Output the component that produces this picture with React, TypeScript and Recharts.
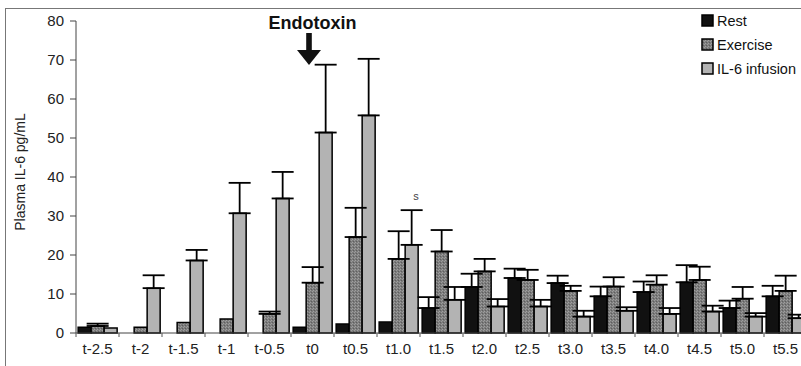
import React from 'react'
import {
  BarChart,
  Bar,
  XAxis,
  YAxis,
  ErrorBar,
  ReferenceDot,
} from 'recharts'

// time points (h relative to endotoxin)
const CATEGORIES = [
  't-2.5', 't-2', 't-1.5', 't-1', 't-0.5', 't0', 't0.5', 't1.0', 't1.5',
  't2.0', 't2.5', 't3.0', 't3.5', 't4.0', 't4.5', 't5.0', 't5.5',
]

const REST = [1.5, null, null, null, null, 1.5, 2.3, 2.8, 6.4, 11.8, 14.1, 12.8, 9.4, 10.5, 13.0, 6.4, 9.4]
const REST_ERR = [null, null, null, null, null, null, null, null, 2.8, 3.4, 2.4, 1.9, 2.5, 2.7, 4.4, 1.9, 2.7]
const EXERCISE = [1.8, 1.5, 2.7, 3.6, 4.9, 12.9, 24.6, 19.0, 20.9, 15.8, 13.6, 10.8, 11.9, 12.4, 13.6, 8.8, 10.8]
const EXERCISE_ERR = [0.6, null, null, null, 0.6, 4.0, 7.5, 7.1, 5.5, 3.2, 2.6, 1.3, 2.4, 2.4, 3.4, 3.0, 3.9]
const INFUSION = [1.3, 11.5, 18.6, 30.7, 34.5, 51.4, 55.8, 22.6, 8.5, 6.8, 6.8, 4.2, 5.7, 4.9, 5.5, 4.2, 3.8]
const INFUSION_ERR = [null, 3.3, 2.7, 7.8, 6.8, 17.4, 14.5, 8.9, 3.3, 1.9, 1.7, 1.5, 0.9, 1.5, 1.5, 0.9, 0.9]

const Y_TICKS = [0, 10, 20, 30, 40, 50, 60, 70, 80]

const ENDOTOXIN_AT = 't0'
const NOTE_AT = 't1.0'
const NOTE_TEXT = 's'

const FONT = '"Liberation Sans", Arial, sans-serif'

const CHART_W = 830
const CHART_H = 366
const MARGIN = { top: 21, right: 23, left: 0, bottom: 1 }
const Y_AXIS_W = 76
const STEP = (CHART_W - MARGIN.left - MARGIN.right - Y_AXIS_W) / CATEGORIES.length

const SERIES = [
  { key: 'rest', name: 'Rest', fill: '#111111' },
  { key: 'exercise', name: 'Exercise', fill: 'url(#exercisePattern)' },
  { key: 'infusion', name: 'IL-6 infusion', fill: '#b3b3b3' },
]

const upOnly = (e: number | null) => (e == null ? null : [0, e])

const data = CATEGORIES.map((name, i) => ({
  name,
  rest: REST[i],
  restErr: upOnly(REST_ERR[i]),
  exercise: EXERCISE[i],
  exerciseErr: upOnly(EXERCISE_ERR[i]),
  infusion: INFUSION[i],
  infusionErr: upOnly(INFUSION_ERR[i]),
}))

const XTick = (props: any) => {
  const { x, y, payload } = props
  return (
    <g>
      <line x1={x - STEP / 2} x2={x - STEP / 2} y1={y - 4} y2={y} stroke="#555" />
      <text x={x} y={y + 17} textAnchor="middle" fontSize={15} fill="#222" fontFamily={FONT}>
        {payload.value}
      </text>
    </g>
  )
}

const EndotoxinMark = (props: any) => {
  const { cx, cy } = props
  const ax = cx - 3.5
  return (
    <g>
      <text x={cx} y={cy + 8} textAnchor="middle" fontSize={18} fontWeight="bold" fill="#111" fontFamily={FONT}>
        Endotoxin
      </text>
      <rect x={ax - 2.8} y={cy + 12} width={5.6} height={18} fill="#111" />
      <polygon points={`${ax - 12},${cy + 29} ${ax + 12},${cy + 29} ${ax},${cy + 44}`} fill="#111" />
    </g>
  )
}

const NoteMark = (props: any) => {
  const { cx, cy } = props
  return (
    <text x={cx + 17.5} y={cy - 10} textAnchor="middle" fontSize={11} fill="#444" fontFamily={FONT}>
      {NOTE_TEXT}
    </text>
  )
}

const LegendBox = () => (
  <div style={{ position: 'absolute', left: 701, top: 9, fontFamily: FONT, fontSize: 14.5, color: '#111', lineHeight: 1 }}>
    {SERIES.map((s) => (
      <div key={s.key} style={{ display: 'flex', alignItems: 'center', height: 24 }}>
        <svg width={16} height={14}>
          <rect x={1} y={1} width={11} height={11} fill={s.fill} stroke="#000" strokeWidth={1.5} />
        </svg>
        <span style={{ whiteSpace: 'nowrap' }}>{s.name}</span>
      </div>
    ))}
  </div>
)

export default function App() {
  const noteIndex = CATEGORIES.indexOf(NOTE_AT)
  return (
    <div style={{ position: 'absolute', left: 0, top: 0, width: 801, height: 366, overflow: 'hidden', background: '#fff' }}>
      <svg width={0} height={0} style={{ position: 'absolute' }}>
        <defs>
          <pattern id="exercisePattern" width={3} height={3} patternUnits="userSpaceOnUse">
            <rect width={3} height={3} fill="#7c7c7c" />
            <rect x={0} y={0} width={1} height={1} fill="#9c9c9c" />
            <rect x={2} y={1} width={1} height={1} fill="#5e5e5e" />
            <rect x={1} y={2} width={1} height={1} fill="#a0a0a0" />
          </pattern>
        </defs>
      </svg>
      <div style={{ position: 'absolute', left: 5, top: 8, width: 900, height: 500, borderLeft: '1px solid #777', borderTop: '1px solid #777' }} />
      <div style={{ position: 'absolute', left: 0, top: 0 }}>
        <BarChart
          width={CHART_W}
          height={CHART_H}
          data={data}
          margin={MARGIN}
          barCategoryGap="5%"
          barGap={0}
        >
          <XAxis
            dataKey="name"
            height={32}
            tickLine={false}
            tickSize={4}
            tickMargin={0}
            axisLine={{ stroke: '#444' }}
            tick={<XTick />}
            interval={0}
          />
          <YAxis
            width={Y_AXIS_W}
            domain={[0, 80]}
            ticks={Y_TICKS}
            tickSize={6}
            tickMargin={6}
            axisLine={{ stroke: '#444' }}
            tickLine={{ stroke: '#444' }}
            tick={{ fontSize: 15, fill: '#222', fontFamily: FONT }}
            label={{
              content: (p: any) => {
                const vb = p.viewBox
                return (
                  <text
                    transform={`translate(${vb.x + 25},${vb.y + vb.height / 2 - 5}) rotate(-90)`}
                    textAnchor="middle"
                    fontSize={14}
                    fill="#222"
                    fontFamily={FONT}
                  >
                    Plasma IL-6 pg/mL
                  </text>
                )
              },
            }}
          />
          {SERIES.map((s) => (
            <Bar
              key={s.key}
              dataKey={s.key}
              name={s.name}
              fill={s.fill}
              stroke="#000"
              strokeWidth={1.5}
              isAnimationActive={false}
            >
              <ErrorBar dataKey={`${s.key}Err`} width={11} stroke="#000" strokeWidth={1.8} direction="y" />
            </Bar>
          ))}
          <ReferenceDot x={ENDOTOXIN_AT} y={80} r={0} shape={<EndotoxinMark />} ifOverflow="visible" />
          <ReferenceDot
            x={NOTE_AT}
            y={(INFUSION[noteIndex] ?? 0) + (INFUSION_ERR[noteIndex] ?? 0)}
            r={0}
            shape={<NoteMark />}
            ifOverflow="visible"
          />
        </BarChart>
      </div>
      <LegendBox />
    </div>
  )
}
